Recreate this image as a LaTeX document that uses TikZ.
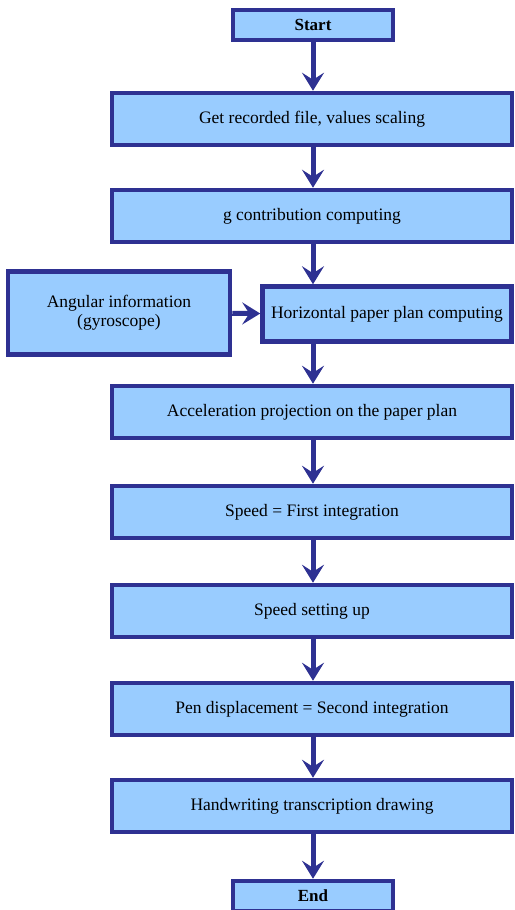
\documentclass[tikz,border=0pt]{standalone}
\usepackage{fontspec}
\setmainfont{Liberation Serif}
\usepackage{xcolor}
\usetikzlibrary{arrows.meta,positioning}
\definecolor{boxline}{HTML}{2E3192}
\definecolor{boxfill}{HTML}{99CCFF}

\begin{document}
\begin{tikzpicture}[x=1pt,y=1pt,
  step box/.style={draw=boxline, fill=boxfill, line width=4.5pt,
    minimum width=400pt, minimum height=52pt, inner sep=2pt,
    font=\fontsize{17.5}{19}\selectfont},
  end box/.style={step box, minimum width=160pt, minimum height=30pt,
    font=\fontsize{17}{19}\selectfont\bfseries},
  flow/.style={-{Stealth[length=18pt,width=22pt,inset=7pt]}, draw=boxline,
    line width=5pt},
]
\useasboundingbox (0,0) rectangle (514,-910);
\node[end box] (start) at (313,-25) {Start};
\node[step box] (load) at (312,-119) {Get recorded file, values scaling};
\node[step box] (grav) at (312,-216) {g contribution computing};
\node[step box, minimum width=222pt, minimum height=83pt, align=center]
  (gyro) at (119,-313) {Angular information\\(gyroscope)};
\node[step box, minimum width=249pt, minimum height=55pt]
  (plan) at (387,-314) {Horizontal paper plan computing};
\node[step box] (proj) at (312,-412) {Acceleration projection on the paper plan};
\node[step box] (speed) at (312,-512) {Speed = First integration};
\node[step box] (setup) at (312,-611) {Speed setting up};
\node[step box] (pen) at (312,-709) {Pen displacement = Second integration};
\node[step box] (draw) at (312,-806) {Handwriting transcription drawing};
\node[end box] (end) at (313,-896) {End};

\draw[flow] (start) -- (start |- load.north);
\draw[flow] (start |- load.south) -- (start |- grav.north);
\draw[flow] (start |- grav.south) -- (start |- plan.north);
\draw[flow] (gyro) -- (plan);
\draw[flow] (start |- plan.south) -- (start |- proj.north);
\draw[flow] (start |- proj.south) -- (start |- speed.north);
\draw[flow] (start |- speed.south) -- (start |- setup.north);
\draw[flow] (start |- setup.south) -- (start |- pen.north);
\draw[flow] (start |- pen.south) -- (start |- draw.north);
\draw[flow] (start |- draw.south) -- (end);
\end{tikzpicture}
\end{document}
